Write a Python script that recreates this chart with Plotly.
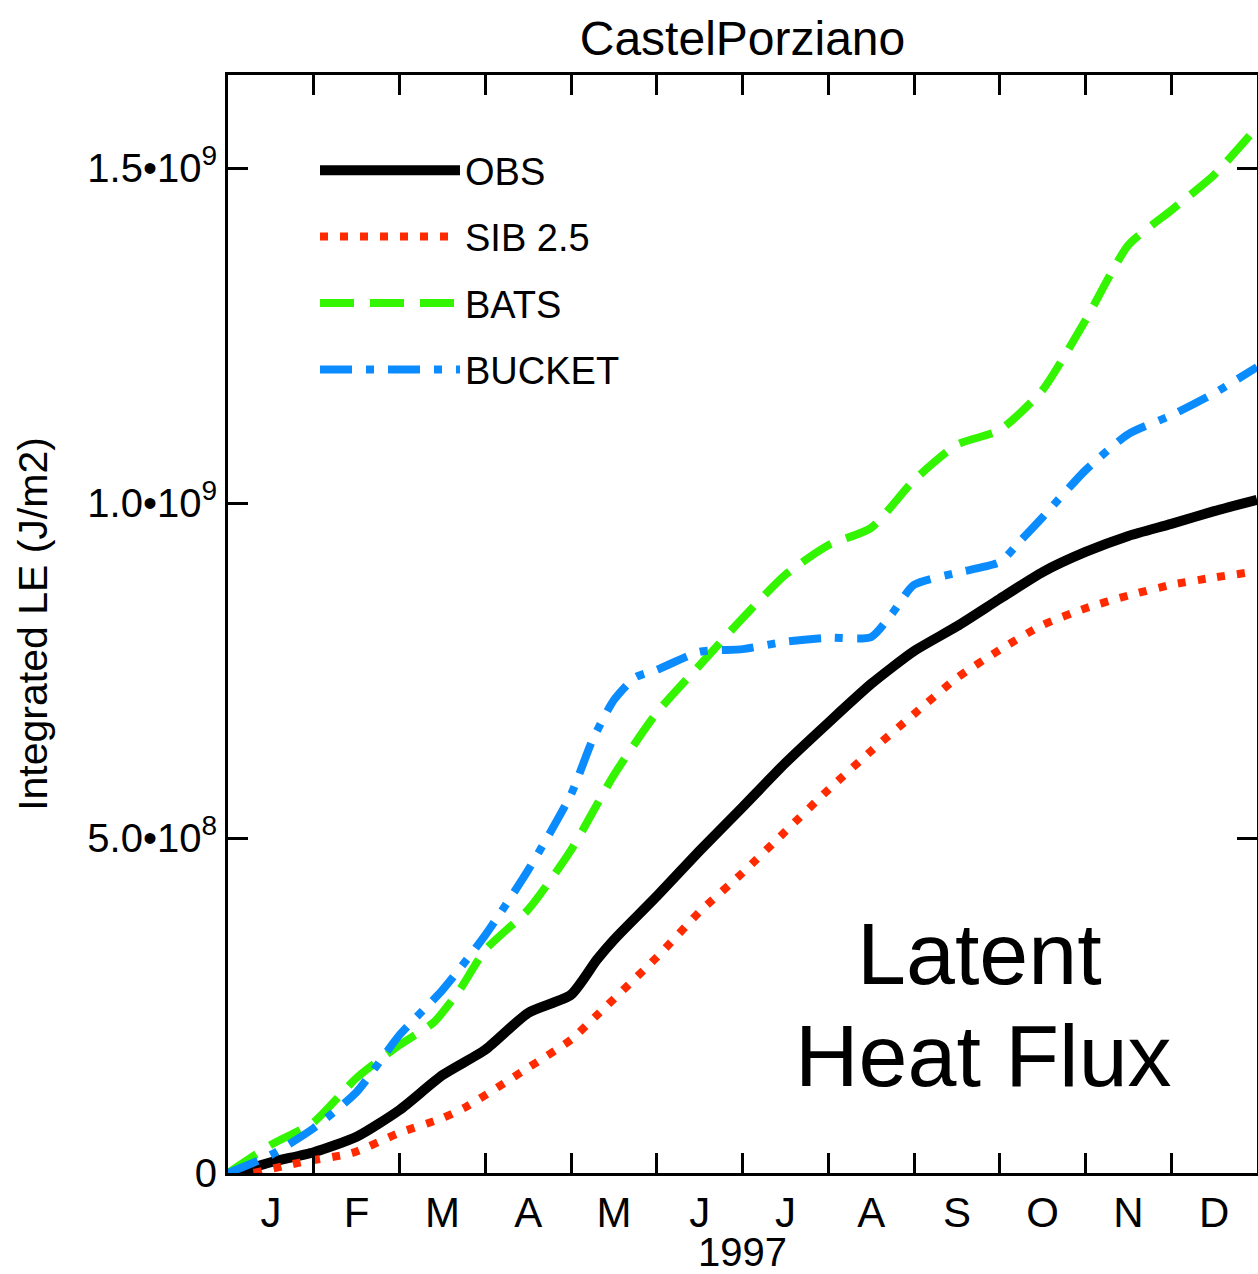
import plotly.graph_objects as go

# ---- data (x in months since 1 Jan 1997, y in units of 1e8 J/m2) ----
obs_month = [0.1, 0.5, 1.0, 1.5, 2.0, 2.5, 3.0, 3.5, 4.0, 4.3, 4.5, 5.0, 5.5, 6.0, 6.5, 7.0,
             7.5, 8.0, 8.5, 9.0, 9.5, 10.0, 10.5, 11.0, 11.5, 12.0]
obs_value = [0.0, 0.16, 0.31, 0.54, 0.94, 1.46, 1.84, 2.39, 2.66, 3.18, 3.48, 4.13, 4.81, 5.46,
             6.12, 6.72, 7.30, 7.79, 8.16, 8.57, 8.97, 9.27, 9.51, 9.69, 9.88, 10.05]

sib_month = [0.3, 0.85, 1.45, 2.0, 2.5, 2.78, 3.5, 4.0, 4.33, 5.0, 5.5, 6.0, 6.5, 7.0, 7.5, 8.0,
             8.5, 9.0, 9.5, 10.0, 10.5, 11.0, 11.5, 12.0]
sib_value = [0.0, 0.16, 0.30, 0.60, 0.82, 0.99, 1.57, 1.99, 2.39, 3.22, 3.90, 4.48, 5.10, 5.72,
             6.30, 6.85, 7.39, 7.81, 8.18, 8.43, 8.62, 8.78, 8.89, 8.98]

bats_month = [0.0, 0.5, 1.0, 1.5, 2.0, 2.4, 2.7, 3.0, 3.5, 4.0, 4.5, 5.0, 5.5, 6.0, 6.5, 7.0,
              7.5, 8.0, 8.5, 9.0, 9.5, 10.0, 10.5, 11.0, 11.5, 12.0]
bats_value = [0.0, 0.42, 0.76, 1.42, 1.91, 2.25, 2.73, 3.33, 3.93, 4.82, 5.94, 6.87, 7.58, 8.28,
              8.93, 9.37, 9.63, 10.34, 10.87, 11.09, 11.69, 12.73, 13.85, 14.37, 14.90, 15.61]

bucket_month = [0.0, 0.5, 1.0, 1.5, 2.0, 2.5, 3.0, 3.5, 4.0, 4.25, 4.5, 4.75, 5.0, 5.5, 6.0,
                6.5, 7.0, 7.5, 7.75, 8.0, 8.5, 9.0, 9.25, 9.5, 10.0, 10.5, 11.0, 11.5, 12.0]
bucket_value = [0.0, 0.27, 0.67, 1.21, 2.06, 2.73, 3.55, 4.52, 5.65, 6.46, 7.06, 7.40, 7.51,
                7.78, 7.82, 7.93, 7.99, 8.00, 8.36, 8.78, 8.96, 9.12, 9.45, 9.79, 10.49,
                11.03, 11.31, 11.64, 12.03]

scale = 1e8

month_labels = ["J", "F", "M", "A", "M", "J", "J", "A", "S", "O", "N", "D"]
month_label_pos = [i + 0.5 for i in range(12)]
month_bounds = list(range(1, 12))

y_tick_vals = [0, 5e8, 1e9, 1.5e9]
y_tick_text = ["0", "5.0•10<sup>8</sup>", "1.0•10<sup>9</sup>", "1.5•10<sup>9</sup>"]

series = [
    ("OBS", obs_month, obs_value, "#000000", 10, "solid"),
    ("SIB 2.5", sib_month, sib_value, "#ff2a00", 8, "8px,12px"),
    ("BATS", bats_month, bats_value, "#33f500", 8, "34px,16px"),
    ("BUCKET", bucket_month, bucket_value, "#0a8cff", 8, "32px,14px,8px,14px"),
]

FONT = "Liberation Sans, Arial, sans-serif"

fig = go.Figure()
for i, (name, xs, ys, color, w, dash) in enumerate(series):
    fig.add_trace(go.Scatter(
        x=xs, y=[v * scale for v in ys], mode="lines", name=name,
        legendgroup=f"g{i}",
        line=dict(color=color, width=w, dash=dash, shape="spline", smoothing=0.6),
    ))

fig.update_layout(
    width=1258, height=1274,
    margin=dict(l=228, r=1, t=75, b=101),
    paper_bgcolor="white", plot_bgcolor="white",
    font=dict(family=FONT, color="black", size=38),
    title=dict(text="CastelPorziano", x=0.5, xref="paper", y=1 - 38 / 1274,
               yanchor="middle", yref="container",
               font=dict(size=48, family=FONT, color="black")),
    showlegend=True,
    legend=dict(x=(315 - 228) / 1029, xanchor="left", y=1 - (139 - 75) / 1098,
                yanchor="top", bgcolor="rgba(0,0,0,0)", borderwidth=0,
                itemwidth=140, tracegroupgap=14,
                font=dict(size=38, family=FONT, color="black")),
    annotations=[
        dict(text="Latent", x=(979 - 228) / 1029, y=(1173 - 953) / 1098,
             xref="paper", yref="paper", showarrow=False, xanchor="center", yanchor="middle",
             font=dict(size=88, family=FONT, color="black")),
        dict(text="Heat Flux", x=(983 - 228) / 1029, y=(1173 - 1055) / 1098,
             xref="paper", yref="paper", showarrow=False, xanchor="center", yanchor="middle",
             font=dict(size=88, family=FONT, color="black")),
    ],
)

fig.update_xaxes(
    range=[0, 12], showgrid=False, zeroline=False, automargin=False,
    showline=True, linecolor="black", linewidth=3, mirror="ticks",
    tickmode="array", tickvals=month_label_pos, ticktext=month_labels,
    ticks="", tickfont=dict(size=42, family=FONT, color="black"),
    ticklabelstandoff=1,
    minor=dict(tickmode="array", tickvals=month_bounds, ticks="inside",
               ticklen=20, tickwidth=3, tickcolor="black", showgrid=False),
    title=dict(text="1997", font=dict(size=40, family=FONT, color="black"), standoff=16),
)
fig.update_yaxes(
    range=[0, 16.39e8], showgrid=False, zeroline=False, automargin=False,
    showline=True, linecolor="black", linewidth=3, mirror="ticks",
    tickmode="array", tickvals=y_tick_vals, ticktext=y_tick_text,
    ticks="inside", ticklen=20, tickwidth=3, tickcolor="black",
    tickfont=dict(size=40, family=FONT, color="black"),
    title=dict(text="Integrated LE (J/m2)", font=dict(size=41, family=FONT, color="black"),
               standoff=27),
)

fig.write_html("out.html")
